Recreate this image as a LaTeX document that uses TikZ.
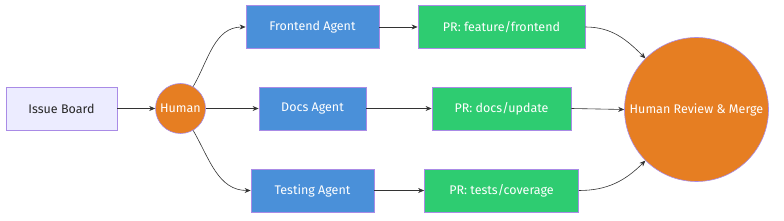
\documentclass[tikz,border=0pt]{standalone}
\usepackage{fontspec}
\setmainfont{Fira Sans}
\usetikzlibrary{arrows.meta}
\definecolor{bordc}{HTML}{A98BE6}
\definecolor{issuefill}{HTML}{ECECFF}
\definecolor{agentfill}{HTML}{4A90D9}
\definecolor{prfill}{HTML}{2ECC71}
\definecolor{humanfill}{HTML}{E67E22}
\definecolor{linec}{HTML}{333333}
\begin{document}
\begin{tikzpicture}[x=1pt,y=-1pt,
  box/.style={draw=bordc, line width=0.8pt, minimum height=43pt, inner sep=0pt, font=\fontsize{12.5}{14}\selectfont},
  issuebox/.style={box, fill=issuefill, text=black!85},
  agentbox/.style={box, fill=agentfill, text=white},
  prbox/.style={box, fill=prfill, text=white},
  humancirc/.style={circle, draw=bordc, line width=0.6pt, fill=humanfill, text=white, inner sep=0pt, font=\fontsize{12.5}{14}\selectfont},
  conn/.style={draw=linec, line width=0.6pt, -{Stealth[length=6pt,width=5pt]}}
]
\useasboundingbox (0,0) rectangle (784,221);
\node[issuebox, minimum width=111pt] (issue) at (61.5,108.5) {Issue Board};
\node[humancirc, minimum size=50pt] (human) at (180.5,108.5) {Human};
\node[agentbox, minimum width=133pt] (fe) at (312.5,27) {Frontend Agent};
\node[agentbox, minimum width=107pt] (docs) at (312.5,108.5) {Docs Agent};
\node[agentbox, minimum width=123pt] (test) at (312.5,190.5) {Testing Agent};
\node[prbox, minimum width=167pt] (prfe) at (501.5,27) {PR: feature/frontend};
\node[prbox, minimum width=139pt] (prdocs) at (501.5,108.5) {PR: docs/update};
\node[prbox, minimum width=154pt] (prtest) at (501.5,190.5) {PR: tests/coverage};
\node[humancirc, minimum size=144pt] (review) at (696.5,109.5) {Human Review \& Merge};
\draw[conn] (issue) -- (human);
\draw[conn] (human.60) to[out=60,in=180] (fe.west);
\draw[conn] (human) -- (docs);
\draw[conn] (human.-60) to[out=-60,in=180] (test.west);
\draw[conn] (fe) -- (prfe);
\draw[conn] (docs) -- (prdocs);
\draw[conn] (test) -- (prtest);
\draw[conn] (prfe.east) to[out=0,in=135] (review.135);
\draw[conn] (prdocs.east) -- (review.west);
\draw[conn] (prtest.east) to[out=0,in=-135] (review.-135);
\end{tikzpicture}
\end{document}
